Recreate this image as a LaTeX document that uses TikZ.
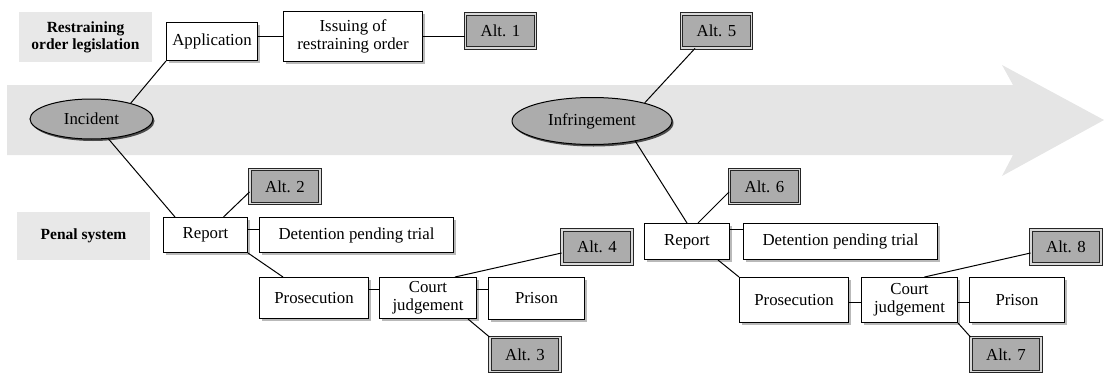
\documentclass[tikz,border=0pt]{standalone}
\usepackage{fontspec}
\setmainfont{Liberation Serif}
\usepackage{tikz}
\usepackage{xcolor}
\usetikzlibrary{positioning,shadows,shapes.geometric}

\begin{document}
\begin{tikzpicture}[x=1pt, y=-1pt,
        box/.style={draw, line width=1pt, fill=white, align=center, inner sep=0pt,
            font=\fontsize{16.8}{18}\selectfont,
            drop shadow={shadow xshift=2.5pt, shadow yshift=-2.5pt, fill=gray!55, opacity=1}},
        altbox/.style={draw=black!85, line width=0.9pt, double=gray!30, double distance=1.4pt,
            fill=gray!65, inner sep=0pt, minimum width=70pt, minimum height=34pt,
            font=\fontsize{16.8}{18}\selectfont},
        event/.style={ellipse, draw, line width=1pt, fill=gray!65, inner sep=0pt,
            font=\fontsize{16.8}{18}\selectfont,
            drop shadow={shadow xshift=1.5pt, shadow yshift=-2pt, fill=black!70, opacity=1}},
        area/.style={fill=gray!18, align=center, inner sep=0pt, minimum width=133pt,
            font=\fontsize{15.5}{17}\selectfont\bfseries},
        link/.style={line width=1pt}]
        \useasboundingbox (0,0) rectangle (1105,372);

        % Draw time arrow
        \fill[gray!20] (7,85) -- (1013,85) -- (1002,65) -- (1104,120) -- (1002,176)
            -- (1013,155) -- (7,155) -- cycle;

        % Draw system labels
        \node[area, minimum height=50pt] (legislation) at (85.5,37) {Restraining\\order legislation};
        \node[area, minimum height=48pt] (penal) at (83.5,236) {Penal system};

        % Draw events
        \node[event, minimum width=123pt, minimum height=40pt] (incident) at (91.5,119) {Incident};
        \node[event, minimum width=160pt, minimum height=47pt] (infringement) at (592,121) {Infringement};

        % Restraining order path
        \node[box, minimum width=91pt, minimum height=38pt] (application) at (212,41.5) {Application};
        \node[box, minimum width=139pt, minimum height=50pt] (issuing) at (353,36.5) {Issuing of\\restraining order};
        \node[altbox] (alt1) at (500.5,31) {Alt. 1};
        \node[altbox] (alt5) at (716.5,31) {Alt. 5};

        % Penal path after the incident
        \node[box, minimum width=84pt, minimum height=35pt] (reportA) at (205.5,235) {Report};
        \node[altbox] (alt2) at (285,186.5) {Alt. 2};
        \node[box, minimum width=194pt, minimum height=35pt] (detentionA) at (356.5,235) {Detention pending trial};
        \node[box, minimum width=109pt, minimum height=41pt] (prosecutionA) at (314,298) {Prosecution};
        \node[box, minimum width=97pt, minimum height=41pt] (courtA) at (428,298) {Court\\judgement};
        \node[box, minimum width=96pt, minimum height=42pt] (prisonA) at (536.5,298) {Prison};
        \node[altbox] (alt4) at (597,247) {Alt. 4};
        \node[altbox] (alt3) at (525,354.5) {Alt. 3};

        % Penal path after the infringement
        \node[box, minimum width=85pt, minimum height=36pt] (reportB) at (687,241.5) {Report};
        \node[altbox] (alt6) at (764.5,186.5) {Alt. 6};
        \node[box, minimum width=194pt, minimum height=36pt] (detentionB) at (840.5,241.5) {Detention pending trial};
        \node[box, minimum width=109pt, minimum height=45pt] (prosecutionB) at (794,300) {Prosecution};
        \node[box, minimum width=96pt, minimum height=45pt] (courtB) at (909.5,300) {Court\\judgement};
        \node[box, minimum width=95pt, minimum height=45pt] (prisonB) at (1017,300) {Prison};
        \node[altbox] (alt8) at (1066,247) {Alt. 8};
        \node[altbox] (alt7) at (1006,354.5) {Alt. 7};

        % Connect restraining order path
        \draw[link] (application.south west) -- (incident.22);
        \draw[link] (application.east |- issuing) -- (issuing.west);
        \draw[link] (issuing.east) -- (issuing.east -| alt1.west);
        \draw[link] (alt5.219) -- (infringement.19);

        % Connect first penal path
        \draw[link] (incident) -- ([xshift=12pt]reportA.north west);
        \draw[link] ([xshift=18pt]reportA.north) -- ([yshift=12pt]alt2.south west);
        \draw[link] ([yshift=6pt]reportA.east) -- ([yshift=6pt]detentionA.west);
        \draw[link] (reportA.south east) -- ([xshift=24pt]prosecutionA.north west);
        \draw[link] ([yshift=9pt]prosecutionA.east) -- ([yshift=9pt]courtA.west);
        \draw[link] ([yshift=9pt]courtA.east) -- ([yshift=9pt]prisonA.west);
        \draw[link] ([xshift=27pt]courtA.north) -- ([yshift=-6pt]alt4.west);
        \draw[link] ([xshift=-9pt]courtA.south east) -- (alt3.north west);

        % Connect second penal path
        \draw[link] (infringement.-25) -- (reportB.north);
        \draw[link] ([xshift=11pt]reportB.north) -- ([yshift=12pt]alt6.south west);
        \draw[link] ([yshift=12pt]reportB.east) -- ([yshift=12pt]detentionB.west);
        \draw[link] ([xshift=-12pt]reportB.south east) -- (prosecutionB.north west);
        \draw[link] ([yshift=-2pt]prosecutionB.east) -- ([yshift=-2pt]courtB.west);
        \draw[link] ([yshift=-2pt]courtB.east) -- ([yshift=-2pt]prisonB.west);
        \draw[link] ([xshift=15pt]courtB.north) -- ([yshift=-6pt]alt8.west);
        \draw[link] (courtB.south east) -- (alt7.north west);
    \end{tikzpicture}
\end{document}
